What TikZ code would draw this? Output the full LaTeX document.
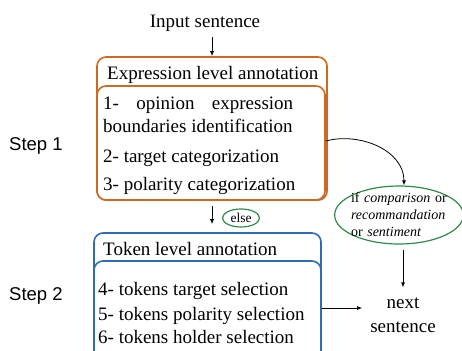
\documentclass[tikz,border=0pt]{standalone}
\usepackage{fontspec}
\setmainfont{Liberation Serif}
\setsansfont{Liberation Sans}
\usepackage{tikz}
\usetikzlibrary{
  positioning,
  arrows.meta,
  shapes.geometric,
  shadows
}
\definecolor{exprorange}{HTML}{CC6A24}
\definecolor{tokblue}{HTML}{2D6DB3}
\definecolor{condgreen}{HTML}{2E8B45}

\begin{document}
\begin{tikzpicture}[
  x=1pt, y=1pt,
  every node/.style={font=\fontsize{19}{22}\selectfont, inner sep=0pt},
  txt/.style={anchor=base west},
  stepname/.style={anchor=base west, font=\sffamily\fontsize{18.5}{22}\selectfont},
  frame/.style={draw=#1, line width=1.6pt, rounded corners=9pt, fill=white,
    drop shadow={opacity=0.25, shadow xshift=1pt, shadow yshift=-1pt}},
  cond/.style={draw=condgreen, ellipse, line width=1.2pt},
  arr/.style={-{Latex[length=5pt,width=4pt]}, line width=0.8pt}
]
\clip (0,0) rectangle (462,-350);

% Frames
\node[frame=exprorange, minimum width=230pt, minimum height=143pt] (exprouter) at (212,-128.5) {};
\node[frame=exprorange, minimum width=228pt, minimum height=114pt] (exprinner) at (211,-143) {};
\node[frame=tokblue, minimum width=227pt, minimum height=132pt] (tokouter) at (207.5,-299) {};
\node[frame=tokblue, minimum width=227pt, minimum height=104pt] (tokinner) at (207.5,-313) {};

% Input
\node[anchor=base] (input) at (205,-28) {Input sentence};

% Step 1
\node[txt] (exprtitle) at (107,-80) {Expression level annotation};
\node[txt] (itema) at (103,-110) {\makebox[190pt][s]{1- opinion expression}};
\node[txt] (itemb) at (103,-132) {boundaries identification};
\node[txt] (itemc) at (103,-162) {2- target categorization};
\node[txt] (itemd) at (103,-190) {3- polarity categorization};

% Step 2
\node[txt] (toktitle) at (103,-255) {Token level annotation};
\node[txt] (iteme) at (98,-295) {4- tokens target selection};
\node[txt] (itemf) at (98,-320) {5- tokens polarity selection};
\node[txt] (itemg) at (98,-343) {6- tokens holder selection};

% Side labels
\node[stepname] (stepa) at (9,-150) {Step 1};
\node[stepname] (stepb) at (9,-300) {Step 2};

% Conditions
\node[cond, minimum width=37pt, minimum height=18pt, font=\fontsize{13.5}{16}\selectfont]
  (else) at (241,-218) {else};
\node[cond, inner xsep=-2.5pt, inner ysep=-1.5pt, text width=96pt, align=left,
  font=\fontsize{14}{17}\selectfont] (condbox) at (399,-215)
  {if \textit{comparison} or\\\textit{recommandation}\\or \textit{sentiment}};
\node[align=center, font=\fontsize{19}{24}\selectfont] (nextsent) at (403,-315) {next\\sentence};

% Connectors
\draw[arr, shorten <=5pt] (input.south -| exprouter.north) -- (exprouter.north);
\draw[arr, shorten <=5pt, shorten >=8pt] (exprouter.south) -- (tokouter.north -| exprouter.south);
\draw[arr] ([yshift=2pt]exprinner.east) to[out=15, in=90] ([xshift=5pt]condbox.north);
\draw[arr, shorten <=5pt, shorten >=10pt] (condbox.south -| nextsent.north) -- (nextsent.north);
\draw[arr, shorten >=8pt] ([yshift=5pt]tokinner.east) -- ([yshift=5pt]tokinner.east -| nextsent.west);

\end{tikzpicture}
\end{document}
